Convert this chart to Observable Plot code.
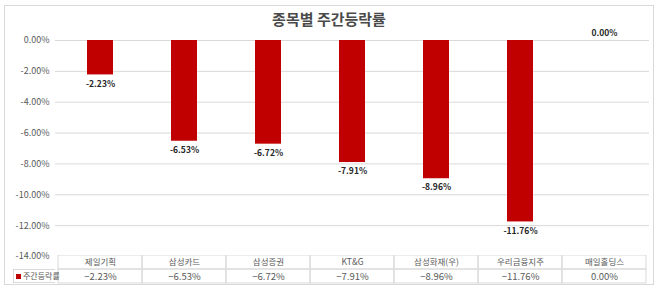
<!DOCTYPE html>
<html><head><meta charset="utf-8">
<script src="https://cdn.jsdelivr.net/npm/d3@7"></script>
<script src="https://cdn.jsdelivr.net/npm/@observablehq/plot@0.6"></script>
<style>
html,body{margin:0;padding:0;background:#fff;}
#wrap{position:relative;width:660px;height:289px;overflow:hidden;font-family:"Noto Sans CJK KR","Noto Sans",sans-serif;}
#frame{position:absolute;left:4px;top:5px;width:650px;height:280px;border:1px solid #d9d9d9;box-sizing:border-box;}
#title{position:absolute;left:0;width:658px;top:8px;text-align:center;font-size:15px;font-weight:bold;color:#4a4a4a;}
#main{position:absolute;left:0;top:0;}
#table{position:absolute;left:0;top:255px;}
#legend{position:absolute;left:13px;top:269px;width:42px;height:14px;border:1px solid #d9d9d9;border-right:none;box-sizing:border-box;font-size:8px;color:#595959;line-height:12px;white-space:nowrap;}
#legend span.k{display:inline-block;width:5px;height:5px;background:#c00000;margin:0 2px 1px 2px;vertical-align:middle;}
</style></head>
<body>
<div id="wrap">
  <div id="frame"></div>
  <div id="main"></div>
  <div id="table"></div>
  <div id="legend"><span class="k"></span>주간등락률</div>
  <div id="title">종목별 주간등락률</div>
</div>
<script>
const categories = ["제일기획","삼성카드","삼성증권","KT&G","삼성화재(우)","우리금융지주","매일홀딩스"];
const values = [-2.23,-6.53,-6.72,-7.91,-8.96,-11.76,0.00];
const yTicks = [0,-2,-4,-6,-8,-10,-12,-14];
const seriesName = "주간등락률";

const data = categories.map((name,i)=>({name, value: values[i]}));
const fmt = v => v.toFixed(2) + "%";
const font = '"Noto Sans CJK KR","Noto Sans",sans-serif';

const main = Plot.plot({
  width: 660, height: 266,
  marginTop: 40, marginBottom: 10, marginLeft: 55, marginRight: 11,
  style: {fontFamily: font, background: "transparent"},
  x: {domain: categories, padding: 0, axis: null},
  y: {domain: [-14, 0], ticks: yTicks, tickFormat: fmt, label: null, tickSize: 0, tickPadding: 6},
  marks: [
    Plot.gridY(yTicks.slice(0, -1), {stroke: "#d9d9d9", strokeOpacity: 1}),
    Plot.axisY(yTicks, {tickSize: 0, tickPadding: 6, tickFormat: fmt, fill: "#595959", fontSize: 9, label: null}),
    Plot.barY(data, {x: "name", y: "value", fill: "#c00000", insetLeft: 29, insetRight: 29}),
    Plot.text(data.filter(d => d.value < 0), {x: "name", y: "value", text: d => fmt(d.value), dy: 9, fontSize: 8.5, fontWeight: "bold", fill: "#262626"}),
    Plot.text(data.filter(d => d.value >= 0), {x: "name", y: "value", text: d => fmt(d.value), dy: -7, fontSize: 8.5, fontWeight: "bold", fill: "#262626"})
  ]
});
document.getElementById("main").appendChild(main);

const rows = [];
data.forEach(d => {
  rows.push({name: d.name, row: "name", label: d.name});
  rows.push({name: d.name, row: "value", label: (d.value < 0 ? "\u2212" + Math.abs(d.value).toFixed(2) : d.value.toFixed(2)) + "%"});
});
const table = Plot.plot({
  width: 660, height: 29,
  marginTop: 0, marginBottom: 1, marginLeft: 55, marginRight: 11,
  style: {fontFamily: font, background: "transparent"},
  x: {domain: categories, padding: 0, axis: null},
  y: {domain: ["name","value"], padding: 0, axis: null},
  marks: [
    Plot.cell(rows, {x: "name", y: "row", fill: "none", stroke: "#d9d9d9"}),
    Plot.text(rows.filter(r => r.row === "name"), {x: "name", y: "row", text: "label", fontSize: 8.5, fill: "#595959"}),
    Plot.text(rows.filter(r => r.row === "value"), {x: "name", y: "row", text: "label", fontSize: 9.5, fill: "#595959"})
  ]
});
document.getElementById("table").appendChild(table);
</script>
</body></html>
